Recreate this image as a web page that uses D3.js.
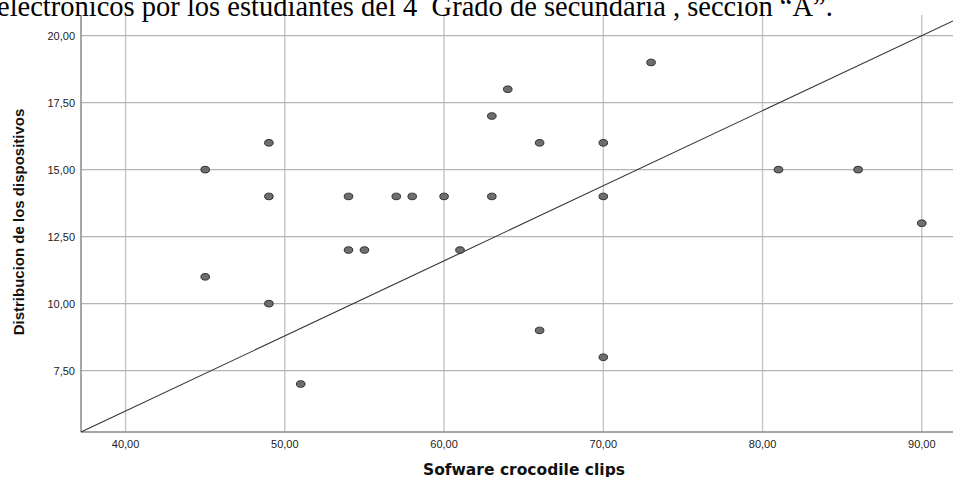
<!DOCTYPE html>
<html>
<head>
<meta charset="utf-8">
<script src="https://cdn.jsdelivr.net/npm/d3@7"></script>
<style>
  body { margin: 0; background: #fff; overflow: hidden; }
  svg { display: block; }
  .tick-label { font-family: "Liberation Sans", Arial, sans-serif; font-size: 11px; fill: #222; }
  .axis-title { font-weight: bold; fill: #111; }
</style>
</head>
<body>
<script>
// data
const softwareScores = [45, 45, 49, 49, 49, 51, 54, 54, 55, 57, 58, 60, 61, 63, 63, 64, 66, 66, 70, 70, 70, 73, 81, 86, 90];
const deviceScores   = [15, 11, 16, 14, 10,  7, 14, 12, 12, 14, 14, 14, 12, 17, 14, 18, 16,  9, 16, 14,  8, 19, 15, 15, 13];
const xTicks = [40, 50, 60, 70, 80, 90];
const yTicks = [7.5, 10, 12.5, 15, 17.5, 20];
// reference line (two points in data units)
const refLineX = [37.2, 91.96];
const refLineY = [5.21, 20.55];

const headingA = "electrónicos por los estudiantes del 4";
const headingSup = "°";
const headingB = " Grado de secundaria , sección \u201CA\u201D.";
const xTitle = "Sofware crocodile clips";
const yTitle = "Distribucion de los dispositivos";

const W = 953, H = 477;
const plotL = 81, plotR = 953, plotT = 15, plotB = 432;

const svg = d3.select("body").append("svg")
  .attr("width", W)
  .attr("height", H);

const x = d3.scaleLinear().domain([37.2, 91.96]).range([plotL, plotR]);
const y = d3.scaleLinear().domain([5.21, 20.77]).range([plotB, plotT]);

const fmt = v => d3.format(".2f")(v).replace(".", ",");

// grid
svg.append("g").selectAll("line")
  .data(xTicks)
  .join("line")
  .attr("x1", d => x(d)).attr("x2", d => x(d))
  .attr("y1", plotT).attr("y2", plotB)
  .attr("stroke", "#c8c8c8").attr("stroke-width", 1.5);

svg.append("g").selectAll("line")
  .data(yTicks)
  .join("line")
  .attr("x1", plotL).attr("x2", plotR)
  .attr("y1", d => y(d)).attr("y2", d => y(d))
  .attr("stroke", "#b4b4b4").attr("stroke-width", 1.2);

// axes lines
svg.append("line")
  .attr("x1", plotL).attr("x2", plotL).attr("y1", plotT).attr("y2", plotB)
  .attr("stroke", "#888").attr("stroke-width", 1.5);
svg.append("line")
  .attr("x1", plotL).attr("x2", plotR).attr("y1", plotB).attr("y2", plotB)
  .attr("stroke", "#888").attr("stroke-width", 1.5);

// cut-off heading from the document (it sits over the top of the chart)
const head = svg.append("text")
  .attr("x", -3)
  .attr("y", 16)
  .attr("font-family", "'Liberation Serif', 'Times New Roman', serif")
  .attr("font-size", 28.5)
  .attr("fill", "#000");
head.append("tspan").text(headingA);
head.append("tspan").attr("dy", -9).attr("font-size", 18).text(headingSup);
head.append("tspan").attr("dy", 9).text(headingB);

// tick labels
svg.append("g").selectAll("text")
  .data(xTicks)
  .join("text")
  .attr("class", "tick-label")
  .attr("x", d => x(d))
  .attr("y", 448)
  .attr("text-anchor", "middle")
  .text(fmt);

svg.append("g").selectAll("text")
  .data(yTicks)
  .join("text")
  .attr("class", "tick-label")
  .attr("x", 75)
  .attr("y", d => y(d) + 4)
  .attr("text-anchor", "end")
  .text(fmt);

// reference line
svg.append("line")
  .attr("x1", x(refLineX[0])).attr("y1", y(refLineY[0]))
  .attr("x2", x(refLineX[1])).attr("y2", y(refLineY[1]))
  .attr("stroke", "#333").attr("stroke-width", 1.1);

// points
const pts = softwareScores.map((s, i) => ({ s: s, d: deviceScores[i] }));
svg.append("g").selectAll("ellipse")
  .data(pts)
  .join("ellipse")
  .attr("cx", d => x(d.s))
  .attr("cy", d => y(d.d))
  .attr("rx", 4.3)
  .attr("ry", 3.3)
  .attr("fill", "#6e6e6e")
  .attr("stroke", "#222")
  .attr("stroke-width", 0.9);

// axis titles
svg.append("text")
  .attr("class", "axis-title")
  .attr("font-family", "'DejaVu Sans', Verdana, sans-serif")
  .attr("font-size", 15.5)
  .attr("x", 524)
  .attr("y", 475)
  .attr("text-anchor", "middle")
  .text(xTitle);

svg.append("text")
  .attr("class", "axis-title")
  .attr("font-family", "'Liberation Sans', Arial, sans-serif")
  .attr("font-size", 15)
  .attr("transform", "translate(24,222) rotate(-90)")
  .attr("text-anchor", "middle")
  .text(yTitle);
</script>
</body>
</html>
